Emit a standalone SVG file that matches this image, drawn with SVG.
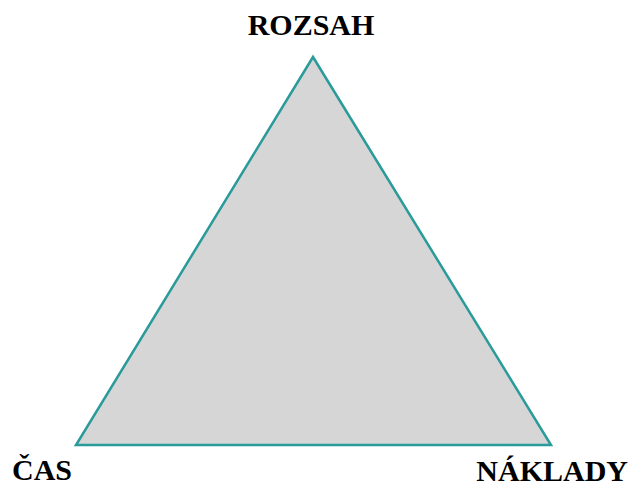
<svg xmlns="http://www.w3.org/2000/svg" width="632" height="487" viewBox="0 0 632 487">
<style>
.lbl{font-family:"Liberation Serif","Times New Roman",serif;font-weight:bold;font-size:30px;fill:#000}
</style>
<rect width="632" height="487" fill="#fff"/>
<g id="triangle">
<polygon points="313,57 76,445 551,445" fill="#d6d6d6" stroke="#2a9a9a" stroke-width="2.5" stroke-linejoin="miter"/>
</g>
<g id="rozsah"><text class="lbl" x="311" y="35" text-anchor="middle">ROZSAH</text></g>
<g id="cas"><text class="lbl" x="12" y="480">ČAS</text></g>
<g id="naklady"><text class="lbl" x="628" y="481" text-anchor="end">NÁKLADY</text></g>
</svg>
